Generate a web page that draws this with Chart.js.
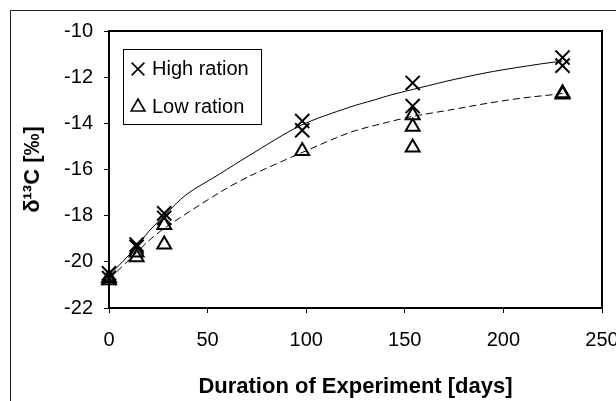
<!DOCTYPE html>
<html>
<head>
<meta charset="utf-8">
<title>δ13C over experiment duration</title>
<script src="https://cdn.jsdelivr.net/npm/chart.js"></script>
<style>
  html, body { margin: 0; padding: 0; background: #fff; }
  #js--chart { display: block; }
</style>
</head>
<body>
<canvas id="js--chart" width="616" height="401"></canvas>
<script>
// measured points (days, per mil)
const highDays = [0, 0, 14, 14, 28, 28, 98, 98, 154, 154, 230, 230];
const highValues = [-20.5, -20.7, -19.25, -19.35, -17.9, -18.1, -13.9, -14.3, -12.25, -13.25, -11.15, -11.5];

const lowDays = [0, 0, 14, 14, 28, 28, 98, 154, 154, 154, 230, 230];
const lowValues = [-20.7, -20.8, -19.6, -19.8, -18.4, -19.25, -15.2, -13.65, -14.15, -15.05, -12.7, -12.75];

// fitted curves
const highCurveDays = [0, 14, 20, 28, 39, 56, 71, 97, 122, 134, 143, 158, 175, 195, 217, 230];
const highCurveValues = [-20.6, -19.35, -18.7, -18.0, -17.1, -16.2, -15.4, -14.1, -13.3, -13.0, -12.77, -12.45, -12.1, -11.75, -11.45, -11.3];

const lowCurveDays = [0, 14, 20, 28, 56, 71, 97, 122, 139, 154, 173, 192, 210, 226, 230];
const lowCurveValues = [-20.75, -19.6, -19.1, -18.55, -17.0, -16.3, -15.3, -14.4, -14.0, -13.7, -13.42, -13.13, -12.9, -12.75, -12.7];

const xTicks = [0, 50, 100, 150, 200, 250];
const yTicks = [-22, -20, -18, -16, -14, -12, -10];

const legendLabels = ["High ration", "Low ration"];

const fontFamily = "'Liberation Sans', Arial, sans-serif";

function toPoints(xs, ys){
    return xs.map(function(x, i){
        return {x: x, y: ys[i]};
    });
}

const framePlugin = {
    id: "frame",
    beforeDraw: function(chart){
        const ctx = chart.ctx;
        ctx.save();
        ctx.fillStyle = "#fff";
        ctx.fillRect(0, 0, chart.width, chart.height);
        // outer chart border (runs off the right and bottom)
        ctx.fillStyle = "#222";
        ctx.fillRect(10, 10, 1, chart.height - 10);
        ctx.fillRect(10, 10, chart.width - 10, 1);
        ctx.restore();
    },
    afterDatasetsDraw: function(chart){
        const a = chart.chartArea;
        const ctx = chart.ctx;
        const l = Math.round(a.left), t = Math.round(a.top);
        const r = Math.round(a.right), b = Math.round(a.bottom);
        ctx.save();
        ctx.fillStyle = "#000";
        ctx.fillRect(l - 1, t - 1, r - l + 2, 2);
        ctx.fillRect(l - 1, b - 1, r - l + 2, 2);
        ctx.fillRect(l - 1, t - 1, 2, b - t + 2);
        ctx.fillRect(r - 1, t - 1, 2, b - t + 2);
        ctx.restore();
    }
};

const legendPlugin = {
    id: "boxLegend",
    afterDraw: function(chart){
        const ctx = chart.ctx;
        const styles = ["crossRot", "triangle"];
        const radii = [9, 8];
        ctx.save();
        ctx.setLineDash([]);
        ctx.fillStyle = "#000";
        ctx.fillRect(123, 49, 139, 1);
        ctx.fillRect(123, 124, 139, 1);
        ctx.fillRect(123, 49, 1, 76);
        ctx.fillRect(261, 49, 1, 76);
        ctx.font = "20px " + fontFamily;
        ctx.textBaseline = "alphabetic";
        ctx.textAlign = "left";
        for (let i = 0; i < legendLabels.length; i++){
            const cy = 69 + i * 38;
            ctx.fillStyle = "rgba(0,0,0,0)";
            ctx.strokeStyle = "#000";
            ctx.lineWidth = 1.6;
            Chart.helpers.drawPoint(ctx, {pointStyle: styles[i], radius: radii[i], borderWidth: 1.6}, 138, cy);
            ctx.fillStyle = "#000";
            ctx.fillText(legendLabels[i], 152, 75 + i * 38);
        }
        ctx.restore();
    }
};

const data = {
    datasets: [
        {
            label: "High ration fit",
            data: toPoints(highCurveDays, highCurveValues),
            showLine: true,
            borderColor: "#000",
            borderWidth: 1,
            pointRadius: 0,
            tension: 0.3
        },
        {
            label: "Low ration fit",
            data: toPoints(lowCurveDays, lowCurveValues),
            showLine: true,
            borderColor: "#000",
            borderWidth: 1,
            borderDash: [7, 4],
            pointRadius: 0,
            tension: 0.3
        },
        {
            label: "High ration",
            data: toPoints(highDays, highValues),
            pointStyle: "crossRot",
            pointRadius: 10,
            pointBorderWidth: 2,
            borderColor: "#000",
            backgroundColor: "transparent",
            clip: false
        },
        {
            label: "Low ration",
            data: toPoints(lowDays, lowValues),
            pointStyle: "triangle",
            pointRadius: 8,
            pointBorderWidth: 2,
            borderColor: "#000",
            backgroundColor: "transparent",
            clip: false
        }
    ]
};

const config = {
    type: "scatter",
    data: data,
    plugins: [framePlugin, legendPlugin],
    options: {
        responsive: false,
        animation: false,
        devicePixelRatio: 1,
        layout: {padding: {left: 0, top: 31, right: 14, bottom: 0}},
        plugins: {
            legend: {display: false},
            tooltip: {enabled: false}
        },
        scales: {
            x: {
                type: "linear",
                min: 0,
                max: 250,
                afterBuildTicks: function(scale){
                    scale.ticks = xTicks.map(function(v){ return {value: v}; });
                },
                afterFit: function(scale){
                    scale.height = 93;
                    scale.paddingLeft = 0;
                    scale.paddingRight = 0;
                },
                grid: {drawOnChartArea: false, drawTicks: true, tickLength: 5, tickColor: "#000", lineWidth: 1},
                border: {display: true, color: "#000", width: 2},
                ticks: {color: "#000", padding: 15, maxRotation: 0, autoSkip: false, font: {family: fontFamily, size: 20}},
                title: {
                    display: true,
                    text: "Duration of Experiment [days]",
                    color: "#000",
                    font: {family: fontFamily, size: 22, weight: "bold"},
                    padding: {top: 0, bottom: 1}
                }
            },
            y: {
                type: "linear",
                min: -22,
                max: -10,
                afterBuildTicks: function(scale){
                    scale.ticks = yTicks.map(function(v){ return {value: v}; });
                },
                afterFit: function(scale){
                    scale.width = 109;
                    scale.paddingTop = 0;
                    scale.paddingBottom = 0;
                },
                grid: {drawOnChartArea: false, drawTicks: true, tickLength: 5, tickColor: "#000", lineWidth: 1},
                border: {display: true, color: "#000", width: 2},
                ticks: {color: "#000", padding: 11, font: {family: fontFamily, size: 20}},
                title: {
                    display: true,
                    text: "δ¹³C [‰]",
                    color: "#000",
                    font: {family: fontFamily, size: 22, weight: "bold"},
                    padding: {top: 20, bottom: 0}
                }
            }
        }
    }
};

const chart = new Chart(document.getElementById("js--chart"), config);
</script>
</body>
</html>
